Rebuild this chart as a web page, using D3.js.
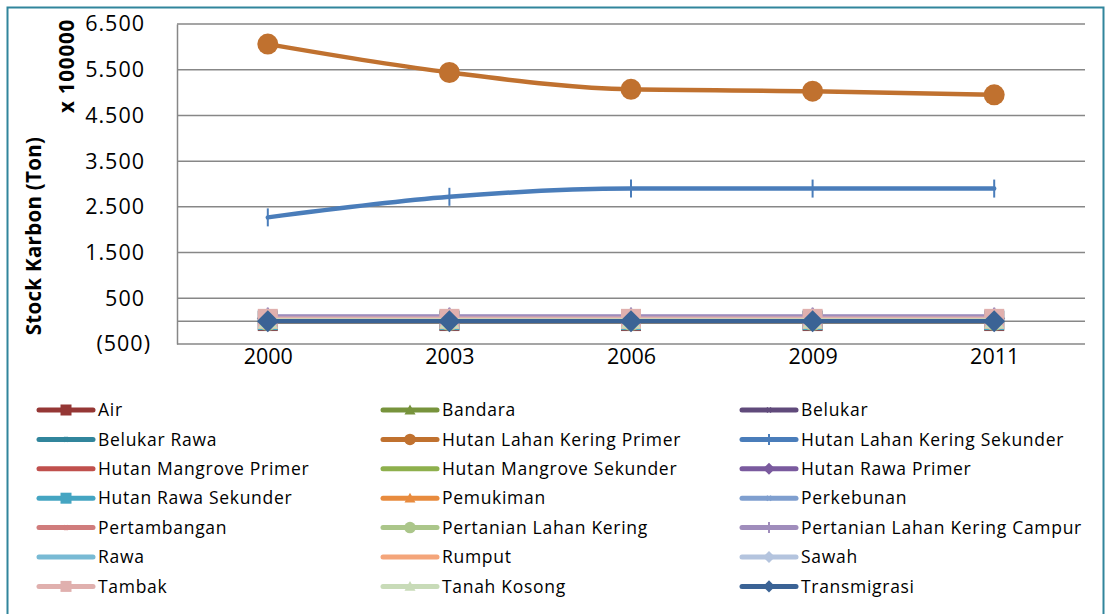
<!DOCTYPE html>
<html><head><meta charset="utf-8">
<script src="https://cdn.jsdelivr.net/npm/d3@7"></script>
<style>body{margin:0;background:#fff}svg{display:block}text{font-family:"Open Sans",Lato,sans-serif}</style>
</head><body><svg id="c" width="1107" height="614"></svg>
<script>
const years = ["2000","2003","2006","2009","2011"];
const yTicks = [-500,500,1500,2500,3500,4500,5500,6500];
const seriesNames = ["Air","Bandara","Belukar","Belukar Rawa","Hutan Lahan Kering Primer","Hutan Lahan Kering Sekunder","Hutan Mangrove Primer","Hutan Mangrove Sekunder","Hutan Rawa Primer","Hutan Rawa Sekunder","Pemukiman","Perkebunan","Pertambangan","Pertanian Lahan Kering","Pertanian Lahan Kering Campur","Rawa","Rumput","Sawah","Tambak","Tanah Kosong","Transmigrasi"];
const vAir = [2,2,2,2,2];
const vBandara = [0,0,0,0,0];
const vBelukar = [40,40,40,40,40];
const vBelukarRawa = [10,10,10,10,10];
const vHLKPrimer = [6060,5440,5070,5030,4950];
const vHLKSekunder = [2270,2720,2900,2900,2900];
const vHMPrimer = [1,1,1,1,1];
const vHMSekunder = [3,3,3,3,3];
const vHRPrimer = [60,60,60,60,60];
const vHRSekunder = [20,20,20,20,20];
const vPemukiman = [5,5,5,5,5];
const vPerkebunan = [90,90,90,90,90];
const vPertambangan = [30,30,30,30,30];
const vPLKering = [15,15,15,15,15];
const vPLKCampur = [100,100,100,100,100];
const vRawa = [8,8,8,8,8];
const vRumput = [4,4,4,4,4];
const vSawah = [25,25,25,25,25];
const vTambak = [50,50,50,50,50];
const vTanahKosong = [12,12,12,12,12];
const vTransmigrasi = [0,0,0,0,0];
const allValues = [vAir,vBandara,vBelukar,vBelukarRawa,vHLKPrimer,vHLKSekunder,vHMPrimer,vHMSekunder,vHRPrimer,vHRSekunder,vPemukiman,vPerkebunan,vPertambangan,vPLKering,vPLKCampur,vRawa,vRumput,vSawah,vTambak,vTanahKosong,vTransmigrasi];
const colors = ["#953735","#77933C","#604A7B","#31859C","#C0712F","#4A7DBA","#C0504D","#8EB04D","#7A5A9E","#45A5C2","#E88B3E","#7F9FCF","#D07C7C","#ABC68A","#A08DBC","#78BAD4","#F4A57A","#B4C4DE","#E0B0AE","#C8DBB8","#3B6395"];
const markers = ["square","triangle","x","star","circle","plus","none","none","diamond","square","triangle","x","star","circle","plus","none","none","diamond","square","triangle","diamond"];

const FONT = "'Open Sans',Lato,sans-serif";
const svg = d3.select("#c");
svg.append("rect").attr("x",7.5).attr("y",7.5).attr("width",1096).attr("height",612).attr("fill","none").attr("stroke","#31859C").attr("stroke-width",2);

const L=177,R=1085,T=24,B=344;
const x = d3.scalePoint().domain(years).range([L,R]).padding(0.5);
const y = d3.scaleLinear().domain([-500,6500]).range([B,T]);

svg.append("g").selectAll("line").data(yTicks).join("line")
  .attr("x1",L).attr("x2",R).attr("y1",d=>y(d)).attr("y2",d=>y(d))
  .attr("stroke","#878787").attr("stroke-width",1.5);
const fmt = d=> (d<0 ? "("+d3.format(",")(-d)+")" : d3.format(",")(d)).replace(/,/g,".");
const ya = svg.append("g").attr("transform",`translate(${L},0)`)
  .call(d3.axisLeft(y).tickValues(yTicks).tickSize(0).tickPadding(32).tickFormat(fmt));
ya.select(".domain").attr("stroke","#878787").attr("stroke-width",1.5);
ya.selectAll(".tick text").attr("font-size",21.5).attr("letter-spacing",1).attr("fill","#000").style("font-family",FONT);
ya.selectAll(".tick text").filter(d=>d<0).attr("dx",6);
const xa = svg.append("g").attr("transform",`translate(0,${y(0)})`)
  .call(d3.axisBottom(x).tickSize(0).tickPadding(0));
xa.select(".domain").attr("stroke","#878787").attr("stroke-width",1.5).attr("d",`M${L},0H${R}`);
xa.selectAll("text").attr("y",y(-500)-y(0)+5).attr("dy","0.71em").attr("font-size",21.5).attr("fill","#000").style("font-family",FONT);

svg.append("text").attr("transform","translate(41,236) rotate(-90)").attr("text-anchor","middle")
  .attr("font-size",20.5).attr("font-weight","bold").attr("letter-spacing",0.3).text("Stock Karbon (Ton)");
svg.append("text").attr("transform","translate(74,66) rotate(-90)").attr("text-anchor","middle")
  .attr("font-size",20.5).attr("font-weight","bold").attr("letter-spacing",0.8).text("x 100000");

function drawMarker(g,type,cx,cy,s,color){
  const h=s/2;
  if(type==="square") g.append("rect").attr("x",cx-h).attr("y",cy-h).attr("width",s).attr("height",s).attr("fill",color);
  else if(type==="circle") g.append("circle").attr("cx",cx).attr("cy",cy).attr("r",h).attr("fill",color);
  else if(type==="diamond") g.append("path").attr("d",`M${cx},${cy-h}L${cx+h},${cy}L${cx},${cy+h}L${cx-h},${cy}Z`).attr("fill",color);
  else if(type==="triangle") g.append("path").attr("d",`M${cx},${cy-h}L${cx+h},${cy+h*0.8}L${cx-h},${cy+h*0.8}Z`).attr("fill",color);
  else if(type==="x") g.append("path").attr("d",`M${cx-h*0.6},${cy-h*0.6}L${cx+h*0.6},${cy+h*0.6}M${cx-h*0.6},${cy+h*0.6}L${cx+h*0.6},${cy-h*0.6}`).attr("stroke",color).attr("stroke-width",2);
  else if(type==="star") g.append("path").attr("d",`M${cx-h*0.6},${cy-h*0.6}L${cx+h*0.6},${cy+h*0.6}M${cx-h*0.6},${cy+h*0.6}L${cx+h*0.6},${cy-h*0.6}M${cx},${cy-h*0.7}L${cx},${cy+h*0.7}`).attr("stroke",color).attr("stroke-width",1.6);
  else if(type==="plus") g.append("path").attr("d",`M${cx},${cy-h}L${cx},${cy+h}`).attr("stroke",color).attr("stroke-width",2);
}
const markerSize = {square:20,circle:21,diamond:22,triangle:20,x:14,star:14,plus:18,none:0};

const line = d3.line().x((d,i)=>x(years[i])).y(d=>y(d)).curve(d3.curveMonotoneX);
const plot = svg.append("g");
seriesNames.forEach((name,si)=>{
  const vals = allValues[si], col = colors[si];
  const g = plot.append("g");
  g.append("path").attr("d",line(vals)).attr("fill","none").attr("stroke",col).attr("stroke-width",4.5).attr("stroke-linecap","round");
  vals.forEach((v,i)=> drawMarker(g,markers[si],x(years[i]),y(v),markerSize[markers[si]],col));
});

const colX=[39,383,742], rowY0=410, rowH=29.4;
const lg = svg.append("g");
seriesNames.forEach((name,si)=>{
  const c=si%3, r=Math.floor(si/3);
  const lx=colX[c], ly=rowY0+r*rowH;
  const g=lg.append("g");
  g.append("line").attr("x1",lx).attr("x2",lx+54).attr("y1",ly).attr("y2",ly).attr("stroke",colors[si]).attr("stroke-width",5).attr("stroke-linecap","round");
  drawMarker(g,markers[si],lx+27,ly,markers[si]==="plus"?11:(markerSize[markers[si]]*0.55),colors[si]);
  g.append("text").attr("x",lx+59).attr("y",ly).attr("dy","0.35em").attr("font-size",17.5).attr("letter-spacing",0.7).attr("fill","#000").text(name);
});
</script></body></html>
